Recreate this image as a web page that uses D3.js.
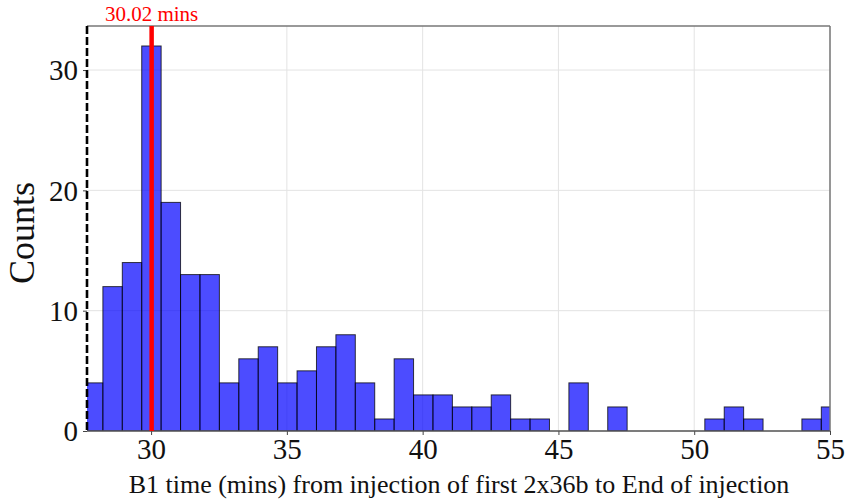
<!DOCTYPE html>
<html>
<head>
<meta charset="utf-8">
<script src="https://cdn.jsdelivr.net/npm/d3@7"></script>
<style>
  body { margin: 0; background: #fff; }
  text { font-family: "Liberation Serif", "Times New Roman", serif; }
</style>
</head>
<body>
<div class="chart"></div>
<script>
// histogram bins (mins) and counts
var binStart = 27.51,
    binWidth = 0.715;
var counts = [4, 12, 14, 32, 19, 13, 13, 4, 6, 7,
              4, 5, 7, 8, 4, 1, 6, 3, 3, 2,
              2, 3, 1, 1, 0, 4, 0, 2, 0, 0,
              0, 0, 1, 2, 1, 0, 0, 1, 2];
var xTicks = [30, 35, 40, 45, 50, 55];
var yTicks = [0, 10, 20, 30];
var xRange = [27.64, 55];
var medianVal = 30.02;

var margin = {top: 26, right: 16, bottom: 69, left: 87},
    width = 846 - margin.left - margin.right,
    height = 500 - margin.top - margin.bottom;

var bins = counts.map(function(c, i) {
  return {x0: binStart + i * binWidth, x1: binStart + (i + 1) * binWidth, n: c};
});

var x = d3.scaleLinear().domain(xRange).range([0, width]);
var y = d3.scaleLinear().domain([0, 33.66]).range([height, 0]);

var svg = d3.select(".chart").append("svg")
    .attr("width", 846)
    .attr("height", 500)
  .append("g")
    .attr("transform", "translate(" + margin.left + "," + margin.top + ")");

svg.append("clipPath").attr("id", "clip")
  .append("rect").attr("width", width).attr("height", height);

// grid
svg.selectAll(".gx").data(xTicks).enter().append("line")
    .attr("x1", function(d) { return x(d); }).attr("x2", function(d) { return x(d); })
    .attr("y1", 0).attr("y2", height)
    .style("stroke", "#e3e3e3").style("stroke-width", 1);
svg.selectAll(".gy").data(yTicks).enter().append("line")
    .attr("y1", function(d) { return y(d); }).attr("y2", function(d) { return y(d); })
    .attr("x1", 0).attr("x2", width)
    .style("stroke", "#e3e3e3").style("stroke-width", 1);

// bars
svg.append("g").attr("clip-path", "url(#clip)")
  .selectAll("rect")
    .data(bins.filter(function(d) { return d.n > 0; }))
    .enter().append("rect")
    .attr("x", function(d) { return x(d.x0); })
    .attr("y", function(d) { return y(d.n); })
    .attr("width", function(d) { return x(d.x1) - x(d.x0); })
    .attr("height", function(d) { return height - y(d.n); })
    .style("fill", "rgba(0,0,255,0.7)")
    .style("stroke", "rgba(0,0,0,0.75)")
    .style("stroke-width", 1);

// axes
var xAxis = d3.axisBottom(x).tickValues(xTicks).tickSize(4).tickPadding(3);
var yAxis = d3.axisLeft(y).tickValues(yTicks).tickSize(4).tickPadding(5);

var gx = svg.append("g")
    .attr("transform", "translate(0," + height + ")")
    .call(xAxis);
gx.select(".domain").remove();
gx.selectAll("text").style("font-size", "29px").style("fill", "#111");
gx.selectAll("line").style("stroke", "#444");

var gy = svg.append("g").call(yAxis);
gy.select(".domain").remove();
gy.selectAll("text").style("font-size", "29px").style("fill", "#111").attr("dy", "0.34em");
gy.selectAll("line").style("stroke", "#444");

// frame
svg.append("line").attr("x1", 0).attr("x2", width).attr("y1", 0).attr("y2", 0)
    .style("stroke", "#777").style("stroke-width", 1.5);
svg.append("line").attr("x1", width).attr("x2", width).attr("y1", 0).attr("y2", height)
    .style("stroke", "#777").style("stroke-width", 1.5);
svg.append("line").attr("x1", 0).attr("x2", width).attr("y1", height).attr("y2", height)
    .style("stroke", "#555").style("stroke-width", 1.5);
svg.append("line").attr("x1", x(xRange[0])).attr("x2", x(xRange[0])).attr("y1", 0).attr("y2", height)
    .style("stroke", "#000").style("stroke-width", 2.6)
    .style("stroke-dasharray", "8,3");

// median line
svg.append("line")
    .attr("x1", x(medianVal)).attr("x2", x(medianVal))
    .attr("y1", 0).attr("y2", height)
    .style("stroke", "red").style("stroke-width", 4.5);
svg.append("text")
    .attr("x", x(medianVal)).attr("y", -5)
    .attr("text-anchor", "middle")
    .style("font-size", "21px").style("fill", "red")
    .text(medianVal.toFixed(2) + " mins");

// axis labels
svg.append("text")
    .attr("x", (125 + 793) / 2 - margin.left).attr("y", height + 62)
    .attr("text-anchor", "middle")
    .style("font-size", "26px").style("fill", "#111")
    .text("B1 time (mins) from injection of first 2x36b to End of injection");

svg.append("text")
    .attr("transform", "translate(" + (34 - margin.left) + "," + (233 - margin.top) + ") rotate(-90)")
    .attr("text-anchor", "middle")
    .style("font-size", "36px").style("fill", "#111")
    .text("Counts");
</script>
</body>
</html>
